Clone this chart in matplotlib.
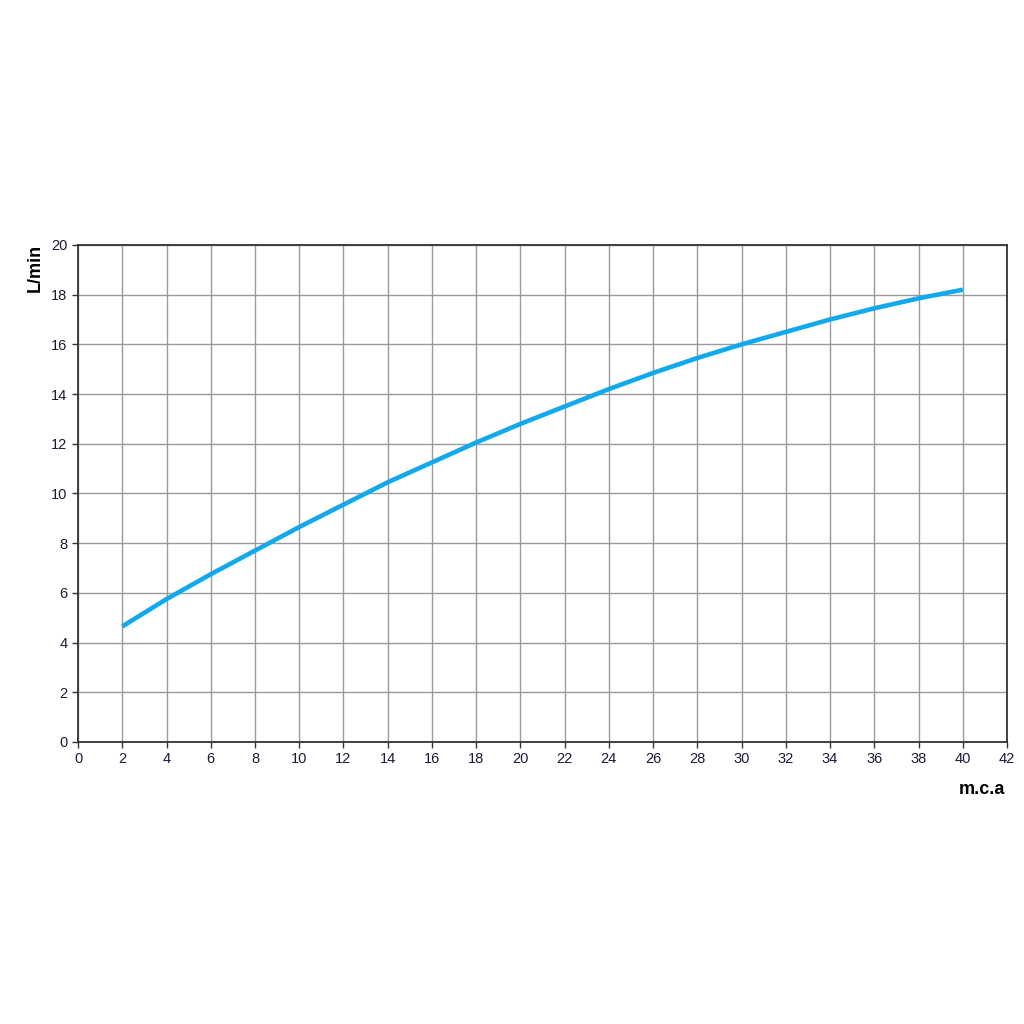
import matplotlib
matplotlib.use("Agg")
import matplotlib.pyplot as plt

plt.rcParams['font.family'] = ['Liberation Sans', 'DejaVu Sans']

pressure = [2, 4, 6, 8, 10, 12, 14, 16, 18, 20, 22, 24, 26, 28, 30, 32, 34, 36, 38, 40]
flow = [4.65, 5.75, 6.75, 7.7, 8.65, 9.55, 10.45, 11.25, 12.05, 12.8, 13.5, 14.2,
        14.85, 15.45, 16.0, 16.5, 17.0, 17.45, 17.85, 18.2]
xticks = list(range(0, 43, 2))
yticks = list(range(0, 21, 2))

fig = plt.figure(figsize=(10.24, 10.24), dpi=100)
ax = fig.add_axes([0.0762, 0.2754, 0.9072, 0.4854])

ax.plot(pressure, flow, color="#12A9EC", lw=3.3, solid_capstyle="butt",
        solid_joinstyle="round", zorder=3)

ax.set_xlim(0, 42)
ax.set_ylim(0, 20)
ax.set_xticks(xticks)
ax.set_yticks(yticks)
ax.grid(True, color="#9a9a9a", lw=1.0)
ax.set_axisbelow(True)
ax.tick_params(direction="out", length=4, width=1, colors="#333333", labelsize=10.5,
               labelcolor="#1a1a3a")
for s in ax.spines.values():
    s.set_color("#333333")
    s.set_linewidth(1.3)

fig.text(35/1024, 1 - 268/1024, "L/min", rotation=90, fontsize=13, fontweight="bold",
         ha="center", va="center")
fig.text(982/1024, 1 - 790/1024, "m.c.a", fontsize=13, fontweight="bold",
         ha="center", va="center")

fig.savefig("out.png", dpi=100, facecolor="white")
